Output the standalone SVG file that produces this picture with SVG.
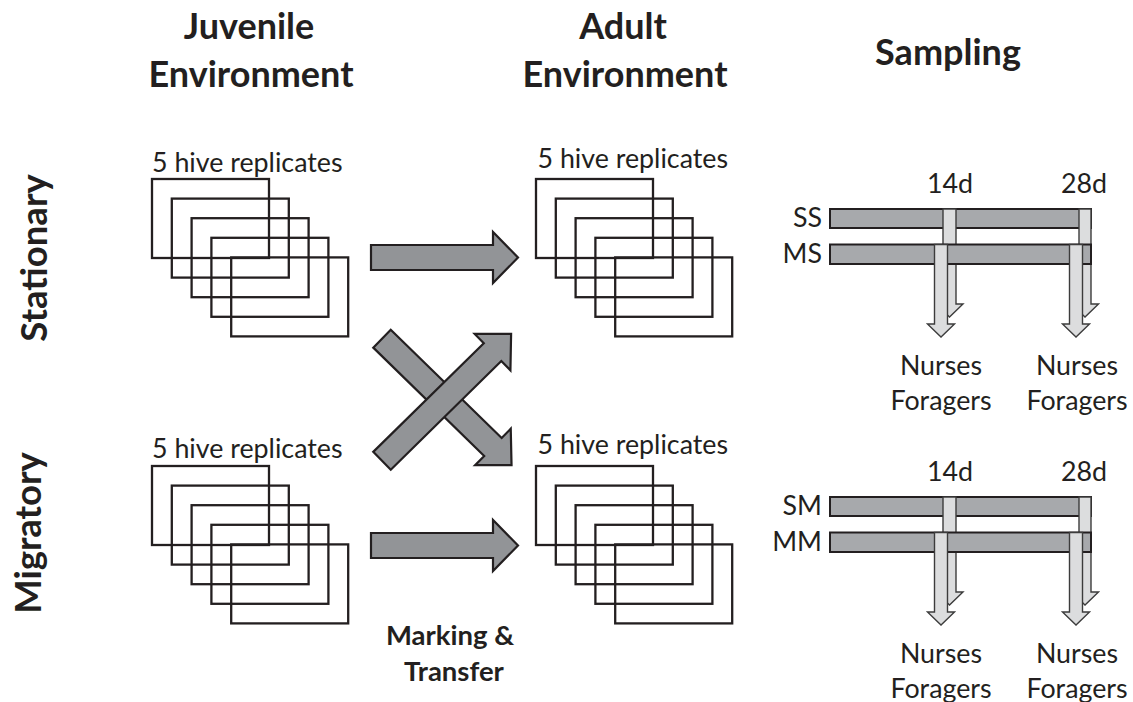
<svg xmlns="http://www.w3.org/2000/svg" xmlns:xlink="http://www.w3.org/1999/xlink" width="1133" height="702" viewBox="0 0 1133 702">
<style>
  text { font-family: Lato, "Open Sans", sans-serif; fill: #231f20; }
  .hdr { font-size: 36px; font-weight: bold; text-anchor: middle; }
  .side { font-size: 36.5px; font-weight: bold; text-anchor: middle; }
  .lbl { font-size: 26.8px; }
  .mid { text-anchor: middle; }
  .end { text-anchor: end; }
  .mark { font-size: 27.5px; font-weight: bold; text-anchor: middle; }
  .hive { fill: none; stroke: #231f20; stroke-width: 2.3; }
  .bar { fill: #a7a9ac; stroke: #231f20; stroke-width: 2; }
  .samp { fill: #dcddde; stroke: #3c3c3c; stroke-width: 1.4; stroke-linejoin: miter; }
  .big { fill: #929497; stroke: #231f20; stroke-width: 2.2; stroke-linejoin: miter; }
</style>
<defs>
  <g id="stack">
    <rect class="hive" x="0" y="0" width="117" height="79"/>
    <rect class="hive" x="19.8" y="19.6" width="117" height="79"/>
    <rect class="hive" x="39.6" y="39.2" width="117" height="79"/>
    <rect class="hive" x="59.4" y="58.8" width="117" height="79"/>
    <rect class="hive" x="79.2" y="78.4" width="117" height="79"/>
  </g>
  <polygon id="diag" class="big" points="0,-12.5 155,-12.5 155,-25.5 181,0 155,25.5 155,12.5 0,12.5"/>
</defs>
<rect width="1133" height="702" fill="#ffffff"/>

<g id="headers">
  <text class="hdr" x="249" y="39">Juvenile</text>
  <text class="hdr" x="251" y="87">Environment</text>
  <text class="hdr" x="623" y="39">Adult</text>
  <text class="hdr" x="625" y="87">Environment</text>
  <text class="hdr" x="948" y="65">Sampling</text>
  <text class="side" transform="translate(46.5,258) rotate(-90)">Stationary</text>
  <text class="side" transform="translate(41,533) rotate(-90)">Migratory</text>
</g>

<g id="juvenile-stationary">
  <text class="lbl" x="152" y="172">5 hive replicates</text>
  <use xlink:href="#stack" href="#stack" transform="translate(152,179)"/>
</g>
<g id="adult-stationary">
  <text class="lbl" x="537.5" y="168">5 hive replicates</text>
  <use xlink:href="#stack" href="#stack" transform="translate(536,179)"/>
</g>
<g id="juvenile-migratory">
  <text class="lbl" x="152" y="458">5 hive replicates</text>
  <use xlink:href="#stack" href="#stack" transform="translate(152,466)"/>
</g>
<g id="adult-migratory">
  <text class="lbl" x="537.5" y="454">5 hive replicates</text>
  <use xlink:href="#stack" href="#stack" transform="translate(536,466)"/>
</g>

<g id="connectors">
  <polygon class="big" points="371,245 493,245 493,232 518,257.5 493,283 493,270 371,270"/>
  <polygon class="big" points="371,533 493,533 493,520 518,545.5 493,571 493,558 371,558"/>
  <use xlink:href="#diag" href="#diag" transform="translate(382,338.7) rotate(44.3)"/>
  <use xlink:href="#diag" href="#diag" transform="translate(382,460.8) rotate(-44.5)"/>
</g>

<g id="marking-label">
  <text class="mark" x="450" y="645">Marking &amp;</text>
  <text class="mark" x="454" y="681">Transfer</text>
</g>

<g id="sampling-stationary">
  <text class="lbl mid" x="950" y="193">14d</text>
  <text class="lbl mid" x="1084" y="193">28d</text>
  <text class="lbl end" x="822" y="227">SS</text>
  <text class="lbl end" x="822" y="263">MS</text>
  <rect class="bar" x="830" y="209" width="261" height="19"/>
  <polygon class="samp" points="943,209 956,209 956,304 963,304 949.5,317 936,304 943,304"/>
  <polygon class="samp" points="1079,209 1091,209 1091,304 1098.5,304 1085,317 1071.5,304 1079,304"/>
  <rect class="bar" x="830" y="244.5" width="261" height="19.5"/>
  <polygon class="samp" points="934.5,244.5 947.5,244.5 947.5,324 954.5,324 941,337 927.5,324 934.5,324"/>
  <polygon class="samp" points="1069.5,244.5 1082.5,244.5 1082.5,324 1089.5,324 1076,337 1062.5,324 1069.5,324"/>
  <text class="lbl mid" x="941" y="375">Nurses</text>
  <text class="lbl mid" x="941" y="410">Foragers</text>
  <text class="lbl mid" x="1077" y="375">Nurses</text>
  <text class="lbl mid" x="1077" y="410">Foragers</text>
</g>

<g id="sampling-migratory">
  <text class="lbl mid" x="950" y="481">14d</text>
  <text class="lbl mid" x="1084" y="481">28d</text>
  <text class="lbl end" x="822" y="515">SM</text>
  <text class="lbl end" x="822" y="551">MM</text>
  <rect class="bar" x="830" y="497" width="261" height="19"/>
  <polygon class="samp" points="943,497 956,497 956,592 963,592 949.5,605 936,592 943,592"/>
  <polygon class="samp" points="1079,497 1091,497 1091,592 1098.5,592 1085,605 1071.5,592 1079,592"/>
  <rect class="bar" x="830" y="532.5" width="261" height="19.5"/>
  <polygon class="samp" points="934.5,532.5 947.5,532.5 947.5,612 954.5,612 941,625 927.5,612 934.5,612"/>
  <polygon class="samp" points="1069.5,532.5 1082.5,532.5 1082.5,612 1089.5,612 1076,625 1062.5,612 1069.5,612"/>
  <text class="lbl mid" x="941" y="663">Nurses</text>
  <text class="lbl mid" x="941" y="698">Foragers</text>
  <text class="lbl mid" x="1077" y="663">Nurses</text>
  <text class="lbl mid" x="1077" y="698">Foragers</text>
</g>
</svg>
